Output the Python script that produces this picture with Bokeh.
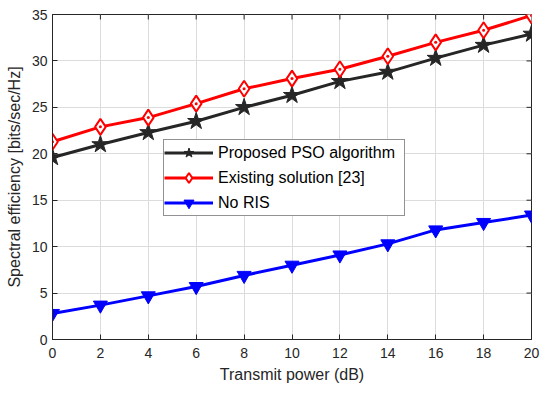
import math
from bokeh.plotting import figure
from bokeh.models import Range1d, FixedTicker, Legend, LegendItem
from bokeh.embed import file_html
from bokeh.resources import INLINE

power_db = [0, 2, 4, 6, 8, 10, 12, 14, 16, 18, 20]
proposed = [19.6, 21.0, 22.3, 23.5, 25.0, 26.3, 27.8, 28.8, 30.3, 31.7, 32.9]
existing = [21.3, 22.9, 23.9, 25.4, 27.0, 28.1, 29.1, 30.5, 32.0, 33.3, 34.9]
no_ris = [2.8, 3.7, 4.7, 5.7, 6.9, 8.0, 9.1, 10.3, 11.8, 12.6, 13.4]
x_ticks = [0, 2, 4, 6, 8, 10, 12, 14, 16, 18, 20]
y_ticks = [0, 5, 10, 15, 20, 25, 30, 35]
X_MIN, X_MAX = 0, 20
Y_MIN, Y_MAX = 0, 35

FONT = "Liberation Sans"
AX = "#262626"

p = figure(width=550, height=393, output_backend="svg", toolbar_location=None,
           x_range=Range1d(X_MIN, X_MAX), y_range=Range1d(Y_MIN, Y_MAX),
           min_border_left=52, min_border_right=19, min_border_top=14, min_border_bottom=54)
p.outline_line_color = AX
p.outline_line_width = 1

for ax in (p.xaxis[0], p.yaxis[0]):
    ax.axis_line_color = AX
    ax.major_tick_in = 5
    ax.major_tick_out = 0
    ax.minor_tick_in = 0
    ax.minor_tick_out = 0
    ax.major_tick_line_color = AX
    ax.major_label_text_font = FONT
    ax.major_label_text_font_size = "14px"
    ax.major_label_text_color = AX
    ax.axis_label_text_font = FONT
    ax.axis_label_text_font_size = "16px"
    ax.axis_label_text_font_style = "normal"
    ax.axis_label_text_color = AX
p.xaxis[0].ticker = FixedTicker(ticks=x_ticks)
p.yaxis[0].ticker = FixedTicker(ticks=y_ticks)
p.xaxis[0].axis_label = "Transmit power (dB)"
p.yaxis[0].axis_label = "Spectral efficiency [bits/sec/Hz]"
p.xaxis[0].major_label_standoff = 8
p.xaxis[0].axis_label_standoff = 5
p.yaxis[0].major_label_standoff = 5
p.yaxis[0].axis_label_standoff = 6

p.xgrid.ticker = FixedTicker(ticks=x_ticks)
p.ygrid.ticker = FixedTicker(ticks=y_ticks)
p.xgrid.grid_line_color = "#dcdcdc"
p.ygrid.grid_line_color = "#dcdcdc"

# inward tick marks on the top and right edges of the box (clipped to the frame)
p.scatter(x_ticks, [Y_MAX] * len(x_ticks), marker="dash", size=10, angle=math.pi / 2,
          line_color=AX, line_width=1)
p.scatter([X_MAX] * len(y_ticks), y_ticks, marker="dash", size=10,
          line_color=AX, line_width=1)

l1 = p.line(power_db, proposed, line_color="#262626", line_width=3)
m1 = p.scatter(power_db, proposed, marker="star", size=18, fill_color="#262626", line_color="#262626")
l2 = p.line(power_db, existing, line_color="#ff0000", line_width=3)
m2 = p.scatter(power_db, existing, marker="diamond", size=16, fill_color="white", line_color="#ff0000", line_width=2)
m2b = p.scatter(power_db, existing, marker="circle", size=3, fill_color="#ff0000", line_color=None)
l3 = p.line(power_db, no_ris, line_color="#0000ff", line_width=3)
m3 = p.scatter(power_db, no_ris, marker="inverted_triangle", size=14, fill_color="#0000ff", line_color="#0000ff")

legend = Legend(items=[
    LegendItem(label="Proposed PSO algorithm", renderers=[l1, m1]),
    LegendItem(label="Existing solution [23]", renderers=[l2, m2]),
    LegendItem(label="No RIS", renderers=[l3, m3]),
], location=(111, 123))
legend.label_text_font = FONT
legend.label_text_font_size = "16px"
legend.label_text_color = "#000000"
legend.glyph_width = 49
legend.glyph_height = 25
legend.label_height = 20
legend.label_width = 186
legend.spacing = -1
legend.padding = 0
legend.margin = 0
legend.label_standoff = 5
legend.border_line_color = AX
legend.border_line_width = 1
legend.background_fill_alpha = 1.0
p.add_layout(legend, "center")

open("out.html", "w").write(file_html(p, INLINE))
